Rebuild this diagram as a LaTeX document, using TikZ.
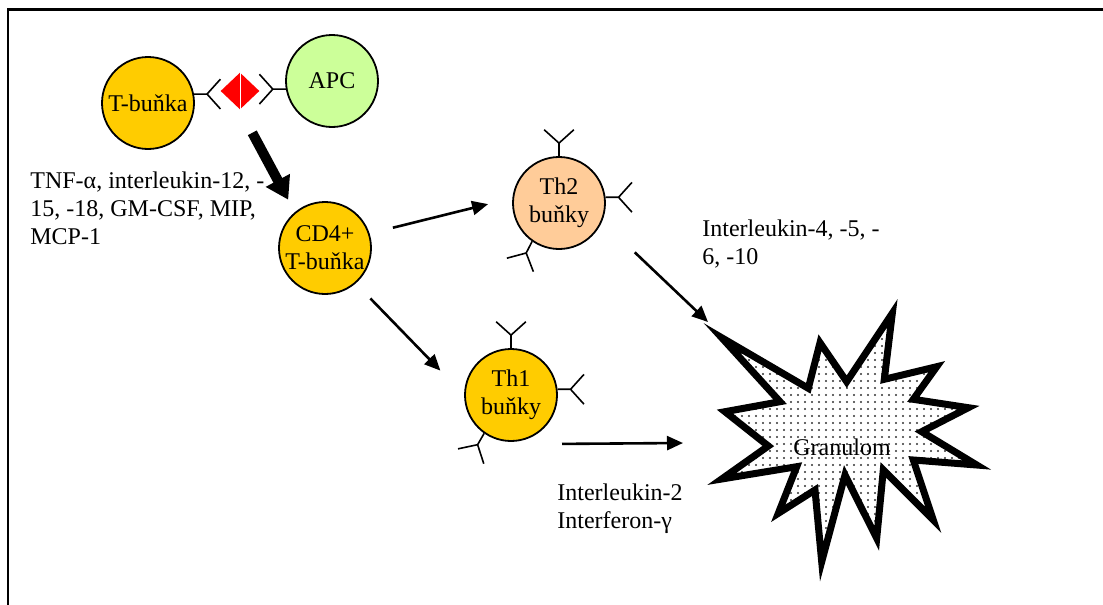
\documentclass[tikz,border=0pt]{standalone}
\usepackage{fontspec}
\setmainfont{Liberation Serif}
\usetikzlibrary{shapes.geometric, arrows.meta, patterns.meta}
\definecolor{goldcell}{RGB}{255,204,0}
\definecolor{greencell}{RGB}{204,255,153}
\definecolor{peachcell}{RGB}{255,204,153}
\tikzset{
  txt/.style={font=\fontsize{12}{14}\selectfont, inner sep=0pt},
  cell/.style={
    circle, draw, line width=0.9pt, minimum size=46pt,
    txt, align=center
  },
  gld/.style={cell, fill=goldcell},
  grn/.style={cell, fill=greencell},
  pch/.style={cell, fill=peachcell},
  rcp/.style={line width=0.8pt},
  arr/.style={-{Triangle[length=8pt,width=7pt]}, line width=1.3pt},
  bigarr/.style={-{Triangle[length=11pt,width=13pt]}, line width=5pt},
  granule/.style={draw, line width=3.5pt, line join=miter,
    pattern={Dots[distance=3.5pt, radius=0.55pt]}, pattern color=black!80},
  lbl/.style={txt, anchor=north west, align=left}
}
\newcommand{\receptor}[3]{%
  \draw[rcp] (#1.#2) -- ++(#3:13) coordinate (ry) -- ++({#3+48}:20)
    (ry) -- ++({#3-48}:20);}

\begin{document}
\begin{tikzpicture}[x=0.5pt, y=0.5pt]
  \useasboundingbox (0,0) rectangle (1103,-605);
  \draw[line width=1.2pt] (8,-605) -- (8,-9.5) -- (1103,-9.5);

  \node[gld] (tcell) at (148,-103) {T-buňka};
  \node[grn] (apc) at (332,-81) {APC};
  \node[diamond, fill=red, minimum width=19.5pt, minimum height=18.5pt,
        inner sep=0pt] (antigen) at (240,-91) {};
  \draw[white, line width=0.3pt] (antigen.north) -- (antigen.south);
  \node[gld] (cd4) at (325,-248) {CD4+\\T-buňka};
  \node[pch] (th2) at (559,-203) {Th2\\buňky};
  \node[gld] (th1) at (511,-395) {Th1\\buňky};

  \draw[granule] (820,-342.7) -- (846.7,-381.7) -- (892.3,-313.3)
    -- (884.3,-379.3) -- (936.7,-366.7) -- (913.3,-399.3) -- (968.3,-407.7)
    -- (921.7,-431.7) -- (976.7,-465) -- (913.3,-460) -- (933.3,-520)
    -- (883.3,-470) -- (876.7,-538.3) -- (845,-475) -- (821.7,-561.7)
    -- (815,-490) -- (778.3,-513.3) -- (796.7,-466.7) -- (721.7,-479)
    -- (768.3,-446) -- (725,-411.7) -- (780,-401.7) -- (721.7,-337.7)
    -- (808.3,-388.3) -- cycle;
  \node[txt] (gran) at (842,-447) {Granulom};
  \coordinate (g-th2) at (708,-322);
  \coordinate (g-th1) at (683,-443);

  \node[lbl] (cyto) at (30,-171) {TNF-α, interleukin-12, -\\15, -18, GM-CSF, MIP,\\MCP-1};
  \node[lbl] (il4) at (702,-219) {Interleukin-4, -5, -\\6, -10};
  \node[lbl] (il2) at (557,-483) {Interleukin-2\\Interferon-γ};

  \receptor{tcell}{11}{0}
  \receptor{apc}{190}{180}
  \receptor{th2}{90}{90}
  \receptor{th2}{7}{0}
  \receptor{th2}{235}{243}
  \receptor{th1}{90}{90}
  \receptor{th1}{7}{0}
  \receptor{th1}{235}{240}

  \draw[bigarr, shorten <=13pt, shorten >=7pt] (antigen.south) -- (cd4.130);
  \draw[arr, shorten <=12pt, shorten >=12.5pt] (cd4.18) -- (th2.174);
  \draw[arr, shorten <=10.5pt, shorten >=17pt] (cd4.-49) -- (th1.180);
  \draw[arr, shorten <=22.5pt] (th2.-23) -- (g-th2);
  \draw[arr] ([shift={(51,-2)}]th1.south) -- (g-th1);
\end{tikzpicture}
\end{document}
